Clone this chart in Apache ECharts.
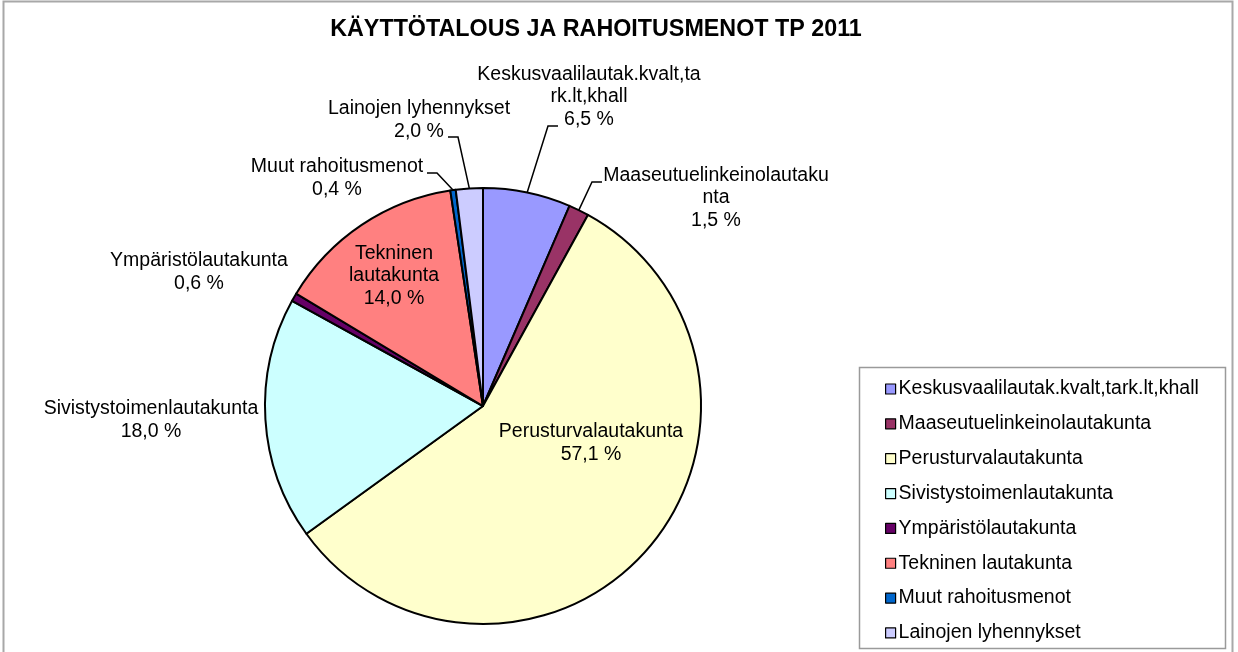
<!DOCTYPE html>
<html>
<head>
<meta charset="utf-8">
<script src="https://cdn.jsdelivr.net/npm/echarts@6/dist/echarts.min.js"></script>
<style>
  html, body { margin: 0; padding: 0; background: #fff; }
  #chart-container { width: 1238px; height: 652px; }
</style>
</head>
<body>
<div id="chart-container"></div>
<script>
// data
const categories = [
  "Keskusvaalilautak.kvalt,tark.lt,khall",
  "Maaseutuelinkeinolautakunta",
  "Perusturvalautakunta",
  "Sivistystoimenlautakunta",
  "Ympäristölautakunta",
  "Tekninen lautakunta",
  "Muut rahoitusmenot",
  "Lainojen lyhennykset",
];
const shares = [6.5, 1.5, 57.1, 18.0, 0.6, 14.0, 0.4, 2.0];
// label text as wrapped in the picture
const labelNames = [
  "Keskusvaalilautak.kvalt,ta\nrk.lt,khall",
  "Maaseutuelinkeinolautaku\nnta",
  "Perusturvalautakunta",
  "Sivistystoimenlautakunta",
  "Ympäristölautakunta",
  "Tekninen\nlautakunta",
  "Muut rahoitusmenot",
  "Lainojen lyhennykset",
];

// styles / placement
const colors = ["#9999FF", "#993366", "#FFFFCC", "#CCFFFF", "#660066", "#FF8080", "#0066CC", "#CCCCFF"];
const labelCenters = [[589, 97], [716, 198], [591, 443], [151, 420], [199, 272], [394, 276], [337, 178], [419, 120]];
// where the leader line meets the label, relative to label centre (null = no leader)
const leaderEnds = [[-31, 29], [-114, -16], null, null, null, null, [90, -5], [29, 17]];

const chartContainer = document.getElementById("chart-container");
const myChart = echarts.init(chartContainer);

const fmt = (v) => v.toFixed(1).replace(".", ",") + " %";

const option = {
  animation: false,
  textStyle: { fontFamily: "Liberation Sans, Arial, sans-serif" },
  title: {
    text: "KÄYTTÖTALOUS JA RAHOITUSMENOT TP 2011",
    left: 596,
    top: 18,
    textAlign: "center",
    padding: 0,
    textStyle: { fontSize: 23.3, fontWeight: "bold", color: "#000", fontFamily: "Liberation Sans, Arial, sans-serif" },
  },
  legend: {
    orient: "vertical",
    left: 885,
    top: 379,
    padding: 0,
    itemGap: 14.85,
    itemWidth: 10,
    itemHeight: 10,
    icon: "rect",
    itemStyle: { borderColor: "#000", borderWidth: 1.2 },
    textStyle: { fontSize: 19.5, lineHeight: 20, color: "#000", padding: [0, 0, 0, -2] },
    data: categories,
  },
  graphic: [
    {
      type: "rect",
      shape: { x: 3.5, y: 1.5, width: 1229, height: 660 },
      style: { fill: null, stroke: "#a8a8a8", lineWidth: 2 },
      silent: true,
      z: -1,
    },
    {
      type: "rect",
      shape: { x: 859.5, y: 367.5, width: 366, height: 281 },
      style: { fill: null, stroke: "#9a9a9a", lineWidth: 1.5 },
      silent: true,
      z: -1,
    },
  ],
  series: [
    {
      name: "TP 2011",
      type: "pie",
      center: [483, 406],
      radius: 218,
      startAngle: 90,
      clockwise: true,
      avoidLabelOverlap: false,
      itemStyle: { borderColor: "#000", borderWidth: 2 },
      label: {
        show: true,
        position: "outside",
        color: "#000",
        fontSize: 19.5,
        lineHeight: 22.5,
        formatter: (p) => labelNames[p.dataIndex] + "\n" + fmt(p.value),
      },
      labelLine: {
        show: true,
        length: 20,
        length2: 10,
        lineStyle: { color: "#000", width: 1.5 },
      },
      labelLayout: (params) => {
        const i = params.dataIndex;
        const [cx, cy] = labelCenters[i];
        const out = { x: cx, y: cy, align: "center", verticalAlign: "middle" };
        const end = leaderEnds[i];
        if (end && params.labelLinePoints) {
          const start = params.labelLinePoints[0];
          const ex = cx + end[0];
          const ey = cy + end[1];
          const bx = end[0] < 0 ? ex - 10 : ex + 10;
          out.labelLinePoints = [start, [bx, ey], [ex, ey]];
        }
        return out;
      },
      data: categories.map((name, i) => ({
        name: name,
        value: shares[i],
        itemStyle: { color: colors[i] },
        labelLine: { show: leaderEnds[i] !== null },
      })),
    },
  ],
};

myChart.setOption(option);
</script>
</body>
</html>
